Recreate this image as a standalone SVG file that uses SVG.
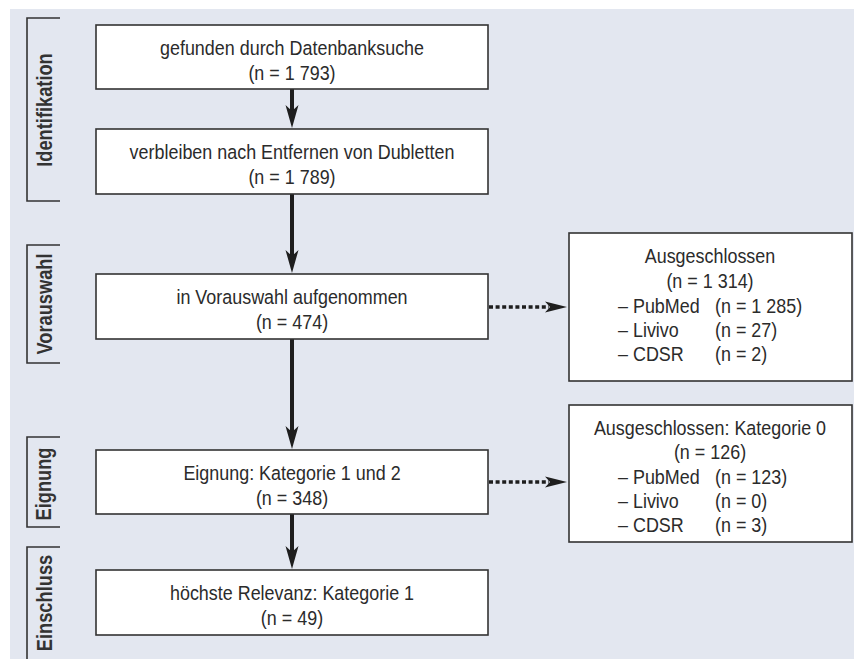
<svg xmlns="http://www.w3.org/2000/svg" width="854" height="659" viewBox="0 0 854 659">
<style>
.bg{fill:#e3e7f0}
.box{fill:#ffffff;stroke:#333333;stroke-width:1.6}
.t{font-family:"Liberation Sans",Arial,sans-serif;font-size:19.5px;fill:#2b2b2b}
.c{text-anchor:middle}
.lab{font-family:"Liberation Sans",Arial,sans-serif;font-size:22px;font-weight:bold;fill:#333333;text-anchor:middle}
.br{fill:none;stroke:#333333;stroke-width:1.6}
.shaft{stroke:#1e1e1e;stroke-width:4;fill:none}
.head{fill:#1e1e1e}
.dot{stroke:#1e1e1e;stroke-width:3.6;stroke-dasharray:4 2.6;fill:none}
</style>
<rect class="bg" x="10" y="9" width="844" height="650"/>
<g id="phases">
<g id="phase-identifikation">
<path class="br" d="M60,18 H27 V201 H60"/>
<text class="lab" transform="translate(52,110) rotate(-90) scale(0.83,1)">Identifikation</text>
</g>
<g id="phase-vorauswahl">
<path class="br" d="M60,245 H27 V363 H60"/>
<text class="lab" transform="translate(52,304) rotate(-90) scale(0.83,1)">Vorauswahl</text>
</g>
<g id="phase-eignung">
<path class="br" d="M60,437 H27 V527 H60"/>
<text class="lab" transform="translate(51,484) rotate(-90) scale(0.83,1)">Eignung</text>
</g>
<g id="phase-einschluss">
<path class="br" d="M60,547 H27 V659"/>
<text class="lab" transform="translate(52,603) rotate(-90) scale(0.83,1)">Einschluss</text>
</g>
</g>
<g id="connectors">
<line class="shaft" x1="292" y1="89" x2="292" y2="112"/>
<path class="head" d="M292,128 L285.5,105 L292,111 L298.5,105 Z"/>
<line class="shaft" x1="292" y1="194" x2="292" y2="257"/>
<path class="head" d="M292,273 L285.5,250 L292,256 L298.5,250 Z"/>
<line class="shaft" x1="292" y1="339" x2="292" y2="433"/>
<path class="head" d="M292,449 L285.5,426 L292,432 L298.5,426 Z"/>
<line class="shaft" x1="292" y1="514" x2="292" y2="553"/>
<path class="head" d="M292,569 L285.5,546 L292,552 L298.5,546 Z"/>
<line class="dot" x1="489" y1="307" x2="549" y2="307"/>
<path class="head" d="M567,307 L545,301.5 L550,307 L545,312.5 Z"/>
<line class="dot" x1="489" y1="482" x2="549" y2="482"/>
<path class="head" d="M567,482 L545,476.5 L550,482 L545,487.5 Z"/>
</g>
<g id="node-datenbanksuche">
<rect class="box" x="96" y="25" width="392" height="64"/>
<text class="t c" transform="translate(292,55) scale(0.92,1)">gefunden durch Datenbanksuche</text>
<text class="t c" transform="translate(292,80) scale(0.92,1)">(n = 1 793)</text>
</g>
<g id="node-dubletten">
<rect class="box" x="96" y="129" width="392" height="65"/>
<text class="t c" transform="translate(292,159) scale(0.92,1)">verbleiben nach Entfernen von Dubletten</text>
<text class="t c" transform="translate(292,184) scale(0.92,1)">(n = 1 789)</text>
</g>
<g id="node-vorauswahl">
<rect class="box" x="96" y="274" width="392" height="65"/>
<text class="t c" transform="translate(292,304) scale(0.92,1)">in Vorauswahl aufgenommen</text>
<text class="t c" transform="translate(292,329) scale(0.92,1)">(n = 474)</text>
</g>
<g id="node-eignung">
<rect class="box" x="96" y="450" width="392" height="64"/>
<text class="t c" transform="translate(292,480) scale(0.92,1)">Eignung: Kategorie 1 und 2</text>
<text class="t c" transform="translate(292,505) scale(0.92,1)">(n = 348)</text>
</g>
<g id="node-einschluss">
<rect class="box" x="96" y="570" width="392" height="65"/>
<text class="t c" transform="translate(292,600) scale(0.92,1)">höchste Relevanz: Kategorie 1</text>
<text class="t c" transform="translate(292,625) scale(0.92,1)">(n = 49)</text>
</g>
<g id="node-ausgeschlossen">
<rect class="box" x="569" y="233" width="283" height="148"/>
<text class="t c" transform="translate(710,263) scale(0.92,1)">Ausgeschlossen</text>
<text class="t c" transform="translate(710,288) scale(0.92,1)">(n = 1 314)</text>
<text class="t" transform="translate(618,313) scale(0.92,1)">– PubMed</text>
<text class="t" transform="translate(715,313) scale(0.92,1)">(n = 1 285)</text>
<text class="t" transform="translate(618,337) scale(0.92,1)">– Livivo</text>
<text class="t" transform="translate(715,337) scale(0.92,1)">(n = 27)</text>
<text class="t" transform="translate(618,361) scale(0.92,1)">– CDSR</text>
<text class="t" transform="translate(715,361) scale(0.92,1)">(n = 2)</text>
</g>
<g id="node-kategorie0">
<rect class="box" x="569" y="405" width="283" height="137"/>
<text class="t c" transform="translate(710,435) scale(0.92,1)">Ausgeschlossen: Kategorie 0</text>
<text class="t c" transform="translate(710,459) scale(0.92,1)">(n = 126)</text>
<text class="t" transform="translate(618,484) scale(0.92,1)">– PubMed</text>
<text class="t" transform="translate(715,484) scale(0.92,1)">(n = 123)</text>
<text class="t" transform="translate(618,508) scale(0.92,1)">– Livivo</text>
<text class="t" transform="translate(715,508) scale(0.92,1)">(n = 0)</text>
<text class="t" transform="translate(618,532) scale(0.92,1)">– CDSR</text>
<text class="t" transform="translate(715,532) scale(0.92,1)">(n = 3)</text>
</g>
</svg>
